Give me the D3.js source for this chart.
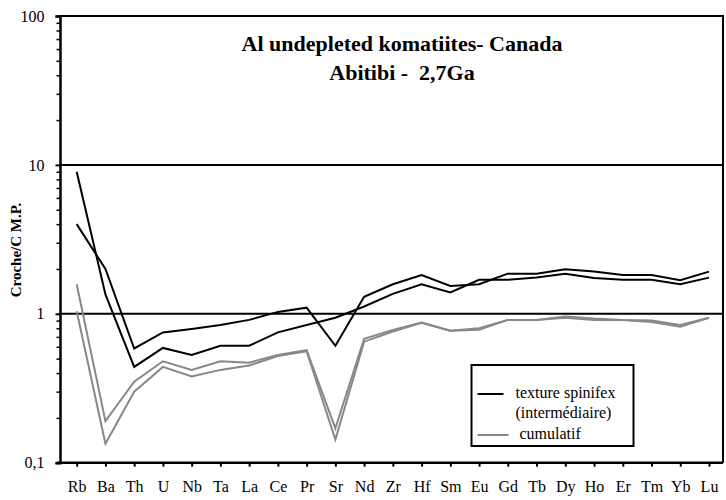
<!DOCTYPE html>
<html>
<head>
<meta charset="utf-8">
<script src="https://cdn.jsdelivr.net/npm/d3@7"></script>
<style>
  text { font-family: "Liberation Serif" !important; }
</style>
</head>
<body style="margin:0">
<svg width="726" height="500"></svg>
<script>
const svg = d3.select('svg')
const FONT = '"Liberation Serif"'

// data
const elements = ['Rb','Ba','Th','U','Nb','Ta','La','Ce','Pr','Sr','Nd','Zr','Hf','Sm','Eu','Gd','Tb','Dy','Ho','Er','Tm','Yb','Lu']
const spinifexA = [9, 1.35, 0.44, 0.59, 0.53, 0.61, 0.61, 0.75, 0.84, 0.94, 1.12, 1.36, 1.58, 1.39, 1.69, 1.69, 1.75, 1.86, 1.74, 1.69, 1.69, 1.58, 1.75]
const spinifexB = [4, 2.0, 0.585, 0.75, 0.79, 0.84, 0.91, 1.03, 1.10, 0.61, 1.30, 1.58, 1.82, 1.54, 1.58, 1.86, 1.86, 1.99, 1.92, 1.82, 1.82, 1.68, 1.92]
const cumulA = [1.58, 0.19, 0.35, 0.48, 0.42, 0.48, 0.47, 0.53, 0.57, 0.17, 0.68, 0.78, 0.875, 0.77, 0.80, 0.91, 0.91, 0.96, 0.93, 0.91, 0.90, 0.84, 0.94]
const cumulB = [1.04, 0.134, 0.30, 0.44, 0.38, 0.42, 0.45, 0.52, 0.56, 0.143, 0.65, 0.76, 0.87, 0.77, 0.78, 0.91, 0.91, 0.94, 0.91, 0.91, 0.88, 0.82, 0.94]
const yMajor = [0.1, 1, 10, 100]
const yLabels = ['0,1', '1', '10', '100']
const gridValues = [1, 10]
const title = ['Al undepleted komatiites- Canada', 'Abitibi -  2,7Ga']
const yTitle = 'Croche/C M.P.'
const legendItems = [
  {lines: ['texture spinifex', '(intermédiaire)'], color: '#000'},
  {lines: ['cumulatif'], color: '#888'},
]

const plot = {left: 60, right: 723, top: 16, bottom: 462.7}

const x = d3.scalePoint().domain(elements).range([76.7, 709])
const y = d3.scaleLog().domain([0.1, 100]).range([plot.bottom, plot.top])

// minor log ticks
const yMinor = []
yMajor.slice(0, -1).forEach(m => { for (let k = 2; k < 10; k++) yMinor.push(m * k) })

svg.append('g')
  .attr('transform', `translate(${plot.left},0)`)
  .call(d3.axisLeft(y).tickValues(yMinor).tickSize(3.5).tickFormat(''))
  .call(g => g.select('.domain').remove())
  .call(g => g.selectAll('line').attr('stroke-width', 1.5))

const yAxis = svg.append('g')
  .attr('transform', `translate(${plot.left},0)`)
  .call(d3.axisLeft(y).tickValues(yMajor).tickSize(4.5).tickPadding(11)
    .tickFormat((d, i) => yLabels[i]))
  .attr('font-family', null)
yAxis.select('.domain').attr('stroke-width', 2.5)
yAxis.selectAll('line').attr('stroke-width', 2)
yAxis.selectAll('text').attr('font-size', 16).attr('fill', '#000').style('font-family', FONT)

const xAxis = svg.append('g')
  .attr('transform', `translate(0,${plot.bottom})`)
  .call(d3.axisBottom(x).tickSize(4).tickPadding(14).tickSizeOuter(0))
  .attr('font-family', null)
xAxis.select('.domain').attr('d', `M${plot.left - 3},0H${plot.right}`).attr('stroke-width', 2.5)
xAxis.selectAll('line').attr('stroke-width', 2)
xAxis.selectAll('text').attr('font-size', 16).attr('fill', '#000').style('font-family', FONT)

// frame + grid
svg.append('path')
  .attr('d', `M${plot.left},${plot.top}H${plot.right}V${plot.bottom}`)
  .attr('fill', 'none').attr('stroke', '#000').attr('stroke-width', 2)
svg.selectAll('.grid').data(gridValues).join('line')
  .attr('class', 'grid')
  .attr('x1', plot.left).attr('x2', plot.right)
  .attr('y1', d => y(d)).attr('y2', d => y(d))
  .attr('stroke', '#000').attr('stroke-width', 2)

// series
const line = d3.line().x((d, i) => x(elements[i])).y(d => y(d))
const series = [
  {values: cumulA, color: '#888'},
  {values: cumulB, color: '#888'},
  {values: spinifexA, color: '#000'},
  {values: spinifexB, color: '#000'},
]
svg.selectAll('.series').data(series).join('path')
  .attr('class', 'series')
  .attr('d', d => line(d.values))
  .attr('fill', 'none')
  .attr('stroke', d => d.color)
  .attr('stroke-width', 2)
  .attr('stroke-linejoin', 'miter')

// title
svg.append('g').selectAll('text').data(title).join('text')
  .attr('x', 402).attr('y', (d, i) => 51 + i * 29)
  .attr('text-anchor', 'middle')
  .attr('font-size', 22).attr('font-weight', 'bold')
  .style('font-family', FONT)
  .style('white-space', 'pre')
  .text(d => d)

svg.append('text')
  .attr('transform', 'translate(21,250) rotate(-90)')
  .attr('text-anchor', 'middle')
  .attr('font-size', 15).attr('font-weight', 'bold')
  .style('font-family', FONT)
  .text(yTitle)

// legend
const legend = svg.append('g').attr('transform', 'translate(471.5,365)')
legend.append('rect')
  .attr('width', 162).attr('height', 81)
  .attr('fill', '#fff').attr('stroke', '#000').attr('stroke-width', 2)
const rowY = [29, 70]
legendItems.forEach((item, i) => {
  legend.append('line')
    .attr('x1', 6).attr('x2', i ? 37 : 32)
    .attr('y1', rowY[i]).attr('y2', rowY[i])
    .attr('stroke', item.color).attr('stroke-width', 2)
  item.lines.forEach((t, j) => {
    legend.append('text')
      .attr('x', i ? 48 : 44).attr('y', rowY[i] + 4 + j * 20)
      .attr('font-size', 16)
      .style('font-family', FONT)
      .text(t)
  })
})
</script>
</body>
</html>
